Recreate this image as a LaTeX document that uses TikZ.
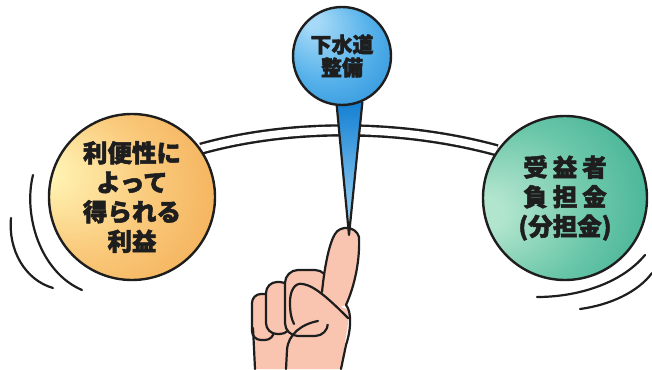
\documentclass[tikz,border=0pt]{standalone}
\usepackage{fontspec}
\newfontfamily\jp{Noto Sans CJK JP}[BoldFeatures={FakeBold=2}]
\usetikzlibrary{backgrounds}

\definecolor{ink}{RGB}{30,30,30}
\definecolor{sunlight}{RGB}{255,242,178}
\definecolor{sunmid}{RGB}{250,203,125}
\definecolor{sundark}{RGB}{240,160,68}
\definecolor{sealight}{RGB}{178,229,206}
\definecolor{seamid}{RGB}{105,198,168}
\definecolor{seadark}{RGB}{33,158,133}
\definecolor{skylight}{RGB}{165,217,247}
\definecolor{skymid}{RGB}{90,180,235}
\definecolor{skydark}{RGB}{20,128,210}
\definecolor{skin}{RGB}{249,197,176}

\pgfdeclareradialshading{sunball}{\pgfpoint{-28bp}{8bp}}{color(0bp)=(sunlight); color(3bp)=(sunlight); color(20bp)=(sunmid); color(46bp)=(sundark)}
\pgfdeclareradialshading{seaball}{\pgfpoint{-27bp}{-5bp}}{color(0bp)=(sealight); color(5bp)=(sealight); color(24bp)=(seamid); color(50bp)=(seadark)}
\pgfdeclareradialshading{skyball}{\pgfpoint{-17bp}{20bp}}{color(0bp)=(skylight); color(4bp)=(skylight); color(22bp)=(skymid); color(48bp)=(skydark)}

\tikzset{
  ball/.style={circle, draw=ink, line width=2.4pt, inner sep=0pt, text=ink, align=center},
  bigtext/.style={font=\jp\bfseries\fontsize{24.5}{29.5}\selectfont},
  band/.style={draw=ink, line width=2.4pt, double=white, double distance=7.5pt},
  stem/.style={draw=ink, line width=2.2pt, line join=round, top color=skydark, bottom color=skylight},
  hand/.style={draw=ink, line width=2.2pt, fill=skin, line cap=round, line join=round},
  swing/.style={draw=ink, line width=2.2pt, line cap=round},
}

\begin{document}
\begin{tikzpicture}[x=1pt, y=-1pt]
  \useasboundingbox (0,0) rectangle (652,369);

  \node[ball, bigtext, minimum size=166pt, shading=sunball] (benefit) at (132,197)
    {利便性に\\よって\\得られる\\利益};
  \node[ball, bigtext, minimum size=164pt, shading=seaball] (burden) at (565,198)
    {受\hspace{5pt}益\hspace{5pt}者\\負\hspace{5pt}担\hspace{5pt}金\\(分担金)};
  \node[ball, font=\jp\bfseries\fontsize{21}{23}\selectfont, minimum size=98pt, shading=skyball] (pin) at (342,56)
    {下水道\\整備};

  \coordinate (tip) at (349,235);

  \begin{scope}[on background layer]
    % bar between the two balls
    \draw[band] (benefit.35) .. controls (290,124) and (400,124) .. (burden.145);

    % hand
    \fill[skin] (255,369) -- (253,320) -- (280,300) -- (320,300) -- (350,310) -- (341,369) -- cycle;
    \filldraw[hand, rounded corners=9pt] (252,294) rectangle (274,340);
    \filldraw[hand, rounded corners=11pt] (266,282) rectangle (291,334);
    \filldraw[hand, rounded corners=13pt] (285,270) rectangle (328,336);
    \fill[skin] (322,292) .. controls (325,262) and (330,242) .. (335,234)
      .. controls (340,225) and (356,226) .. (359,237)
      .. controls (360,260) and (355,285) .. (346,305) -- (330,310) -- cycle;
    \draw[hand, fill=none] (322,292) .. controls (325,262) and (330,242) .. (335,234)
      .. controls (340,225) and (356,226) .. (359,237)
      .. controls (360,260) and (355,285) .. (346,305)
      .. controls (352,312) and (351,330) .. (346,345) -- (341,369);
    \fill[skin] (348,318) -- (303,284) .. controls (294,282) and (290,292) .. (290,302)
      .. controls (290,312) and (291,318) .. (293,322) -- (318,321) -- (347,330) -- cycle;
    \draw[hand, fill=none] (348,318) .. controls (330,300) and (315,286) .. (303,284)
      .. controls (294,282) and (290,292) .. (290,302)
      .. controls (290,312) and (291,318) .. (294,324);
    \draw[hand, fill=none] (318,321) .. controls (302,324) and (288,334) .. (287,350) -- (286,369);
    \draw[hand, fill=none] (253,328) -- (255,369);

    % stick
    \draw[stem] (pin.-96) -- (tip) -- (pin.-66);
  \end{scope}

  % swing marks
  \draw[swing] (33,175) .. controls (23,215) and (40,272) .. (82,290);
  \draw[swing] (11,218) .. controls (8,250) and (25,280) .. (53,288);
  \draw[swing] (537,297) .. controls (575,297) and (620,285) .. (645,255);
  \draw[swing] (580,309) .. controls (610,305) and (638,292) .. (652,273);
\end{tikzpicture}
\end{document}
